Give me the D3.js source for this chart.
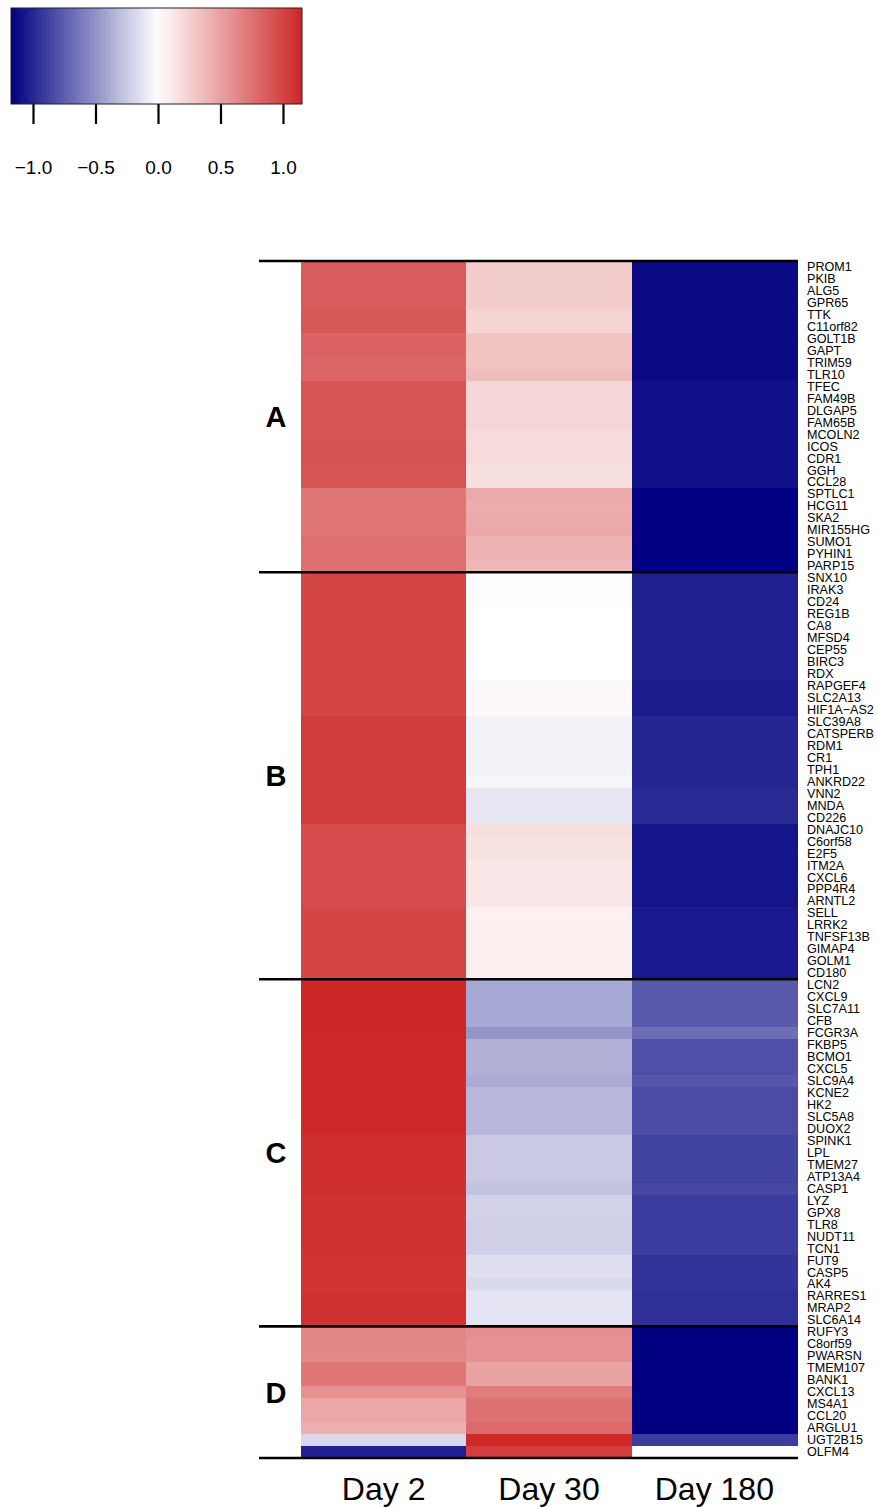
<!DOCTYPE html>
<html lang="en">
<head>
<meta charset="utf-8">
<title>Heatmap</title>
<script src="https://d3js.org/d3.v7.min.js"></script>
<style>
	body { margin: 0; background: #fff; }
	text { font-family: "Liberation Sans", Arial, Helvetica, sans-serif; fill: #000; }
</style>
</head>
<body>
<div id="chart"></div>
<script>

// gene names, top to bottom
var genes = [
	// A
	"PROM1","PKIB","ALG5","GPR65","TTK","C11orf82","GOLT1B","GAPT","TRIM59","TLR10",
	"TFEC","FAM49B","DLGAP5","FAM65B","MCOLN2","ICOS","CDR1","GGH","CCL28","SPTLC1",
	"HCG11","SKA2","MIR155HG","SUMO1","PYHIN1","PARP15",
	// B
	"SNX10","IRAK3","CD24","REG1B","CA8","MFSD4","CEP55","BIRC3","RDX","RAPGEF4",
	"SLC2A13","HIF1A\u2212AS2","SLC39A8","CATSPERB","RDM1","CR1","TPH1","ANKRD22","VNN2","MNDA",
	"CD226","DNAJC10","C6orf58","E2F5","ITM2A","CXCL6","PPP4R4","ARNTL2","SELL","LRRK2",
	"TNFSF13B","GIMAP4","GOLM1","CD180",
	// C
	"LCN2","CXCL9","SLC7A11","CFB","FCGR3A","FKBP5","BCMO1","CXCL5","SLC9A4","KCNE2",
	"HK2","SLC5A8","DUOX2","SPINK1","LPL","TMEM27","ATP13A4","CASP1","LYZ","GPX8",
	"TLR8","NUDT11","TCN1","FUT9","CASP5","AK4","RARRES1","MRAP2","SLC6A14",
	// D
	"RUFY3","C8orf59","PWARSN","TMEM107","BANK1","CXCL13","MS4A1","CCL20","ARGLU1","UGT2B15",
	"OLFM4"
];

var groups = ["A", "B", "C", "D"];
var groupSizes = [26, 34, 29, 11];

var days = ["Day 2", "Day 30", "Day 180"];

var day2 = [
	0.86,0.86,0.86,0.86,0.89,0.89,0.83,0.83,0.82,0.82,
	0.91,0.91,0.91,0.91,0.91,0.92,0.92,0.91,0.91,
	0.72,0.73,0.73,0.73,0.76,0.76,0.76,
	0.99,0.99,0.99,0.99,0.99,0.99,0.99,0.99,0.99,0.99,0.99,0.99,
	1.04,1.04,1.04,1.04,1.04,1.04,1.04,1.04,1.04,
	0.95,0.95,0.95,0.95,0.95,0.95,0.95,
	0.98,0.98,0.98,0.98,0.98,0.98,
	1.15,1.15,1.15,1.15,1.15,1.14,1.14,1.14,1.14,1.14,1.14,1.14,1.14,
	1.11,1.11,1.11,1.11,1.11,1.09,1.09,1.09,1.09,1.09,1.08,1.08,1.08,1.09,1.09,1.09,
	0.64,0.64,0.63,0.72,0.72,0.58,0.47,0.47,0.42,-0.18,-1.03
];

var day30 = [
	0.27,0.27,0.27,0.27,0.23,0.23,0.32,0.32,0.32,0.35,
	0.22,0.22,0.22,0.22,0.19,0.19,0.19,0.17,0.17,
	0.45,0.44,0.45,0.46,0.40,0.40,0.38,
	-0.01,-0.01,-0.01,0.00,0.00,0.00,0.00,0.00,0.00,0.03,0.03,0.03,
	-0.06,-0.06,-0.06,-0.06,-0.06,-0.04,-0.11,-0.11,-0.11,
	0.17,0.15,0.15,0.12,0.12,0.12,0.12,
	0.08,0.09,0.09,0.09,0.09,0.09,
	-0.40,-0.40,-0.40,-0.40,-0.49,-0.36,-0.36,-0.36,-0.39,-0.33,-0.33,-0.33,-0.33,
	-0.25,-0.25,-0.25,-0.25,-0.28,-0.21,-0.21,-0.22,-0.22,-0.22,-0.15,-0.15,-0.17,-0.13,-0.13,-0.13,
	0.60,0.58,0.58,0.49,0.49,0.69,0.75,0.75,0.79,1.14,1.03
];

var day180 = [
	-1.13,-1.13,-1.13,-1.13,-1.13,-1.13,-1.13,-1.13,-1.13,-1.13,
	-1.10,-1.10,-1.10,-1.10,-1.10,-1.10,-1.10,-1.10,-1.10,
	-1.17,-1.17,-1.17,-1.17,-1.17,-1.17,-1.17,
	-1.03,-1.03,-1.03,-1.03,-1.03,-1.03,-1.03,-1.03,-1.03,-1.05,-1.05,-1.05,
	-1.00,-1.00,-1.00,-1.00,-1.00,-1.00,-0.98,-0.98,-0.98,
	-1.08,-1.08,-1.08,-1.08,-1.08,-1.08,-1.08,
	-1.06,-1.06,-1.06,-1.06,-1.06,-1.06,
	-0.76,-0.76,-0.76,-0.76,-0.67,-0.81,-0.81,-0.81,-0.78,-0.83,-0.83,-0.83,-0.83,
	-0.87,-0.87,-0.87,-0.87,-0.85,-0.90,-0.90,-0.90,-0.90,-0.90,-0.94,-0.94,-0.94,-0.96,-0.96,-0.96,
	-1.17,-1.17,-1.17,-1.17,-1.17,-1.17,-1.17,-1.17,-1.17,-0.90,-0.01
];

var keyTicks = [-1.0, -0.5, 0.0, 0.5, 1.0];
var keyExtent = [-1.176, 1.152];

function makeHeatmap(element) {

	var width = 877, height = 1507;

	var svg = d3.select(element).append("svg")
		.attr("width", width)
		.attr("height", height);

	var color = d3.scaleLinear()
		.domain([keyExtent[0], 0, keyExtent[1]])
		.range(["#000080", "#ffffff", "#cd2626"])
		.clamp(true);

	// ---- colour key ----
	var kx = d3.scaleLinear().domain(keyExtent).range([11, 302]);

	var grad = svg.append("defs").append("linearGradient")
		.attr("id", "keygrad")
		.attr("x1", "0%").attr("x2", "100%").attr("y1", "0%").attr("y2", "0%");
	d3.range(0, 1.0001, 0.05).forEach(function(t) {
		var v = keyExtent[0] + t * (keyExtent[1] - keyExtent[0]);
		grad.append("stop").attr("offset", (t * 100) + "%").attr("stop-color", color(v));
	});

	svg.append("rect")
		.attr("x", kx(keyExtent[0]))
		.attr("y", 8)
		.attr("width", kx(keyExtent[1]) - kx(keyExtent[0]))
		.attr("height", 96)
		.attr("fill", "url(#keygrad)")
		.attr("stroke", "#222")
		.attr("stroke-width", 1);

	var keyAxis = svg.append("g")
		.attr("transform", "translate(0,104)")
		.call(d3.axisBottom(kx).tickValues(keyTicks).tickSize(20).tickPadding(37).tickFormat(d3.format(".1f")));
	keyAxis.select(".domain").remove();
	keyAxis.selectAll(".tick line").attr("stroke", "#000").attr("stroke-width", 2.2);
	keyAxis.selectAll("text").attr("font-size", 19).attr("font-family", "Liberation Sans, Arial, sans-serif").attr("fill", "#000");

	// ---- heatmap ----
	var top = 261, bottom = 1458;

	var x = d3.scaleBand().domain(days).range([301, 797]);
	var y = d3.scaleBand().domain(d3.range(genes.length)).range([top, bottom]);

	var cols = [day2, day30, day180];
	var cells = [];
	cols.forEach(function(vals, j) {
		vals.forEach(function(v, i) {
			cells.push({ day: days[j], row: i, value: v });
		});
	});

	svg.append("g").selectAll("rect")
		.data(cells)
		.enter().append("rect")
		.attr("x", function(d) { return x(d.day); })
		.attr("y", function(d) { return y(d.row); })
		.attr("width", x.bandwidth() + 0.5)
		.attr("height", y.bandwidth() + 0.5)
		.attr("fill", function(d) { return color(d.value); })
		.attr("shape-rendering", "crispEdges");

	// group separators and labels
	var bounds = [0];
	groupSizes.forEach(function(n, i) { bounds.push(bounds[i] + n); });

	svg.append("g").selectAll("line")
		.data(bounds)
		.enter().append("line")
		.attr("x1", 259)
		.attr("x2", 798)
		.attr("y1", function(b) { return b < genes.length ? y(b) : bottom; })
		.attr("y2", function(b) { return b < genes.length ? y(b) : bottom; })
		.attr("stroke", "#000")
		.attr("stroke-width", 2.6);

	svg.append("g").selectAll("text")
		.data(groups)
		.enter().append("text")
		.attr("x", 276)
		.attr("y", function(g, i) {
			var y0 = y(bounds[i]);
			var y1 = bounds[i + 1] < genes.length ? y(bounds[i + 1]) : bottom;
			return (y0 + y1) / 2;
		})
		.attr("dy", "0.36em")
		.attr("text-anchor", "middle")
		.attr("font-size", 29)
		.attr("font-weight", "bold")
		.text(function(g) { return g; });

	// gene labels on the right
	var rowAxis = svg.append("g")
		.attr("transform", "translate(797,0)")
		.call(d3.axisRight(y).tickSize(0).tickPadding(10).tickFormat(function(i) { return genes[i]; }));
	rowAxis.select(".domain").remove();
	rowAxis.selectAll("text").attr("font-size", 12.6).attr("font-family", "Liberation Sans, Arial, sans-serif").attr("fill", "#000");

	// day labels below
	var colAxis = svg.append("g")
		.attr("transform", "translate(0," + bottom + ")")
		.call(d3.axisBottom(x).tickSize(0).tickPadding(19));
	colAxis.select(".domain").remove();
	colAxis.selectAll("text").attr("font-size", 32).attr("font-family", "Liberation Sans, Arial, sans-serif").attr("fill", "#000");
}

makeHeatmap("#chart");

</script>
</body>
</html>
